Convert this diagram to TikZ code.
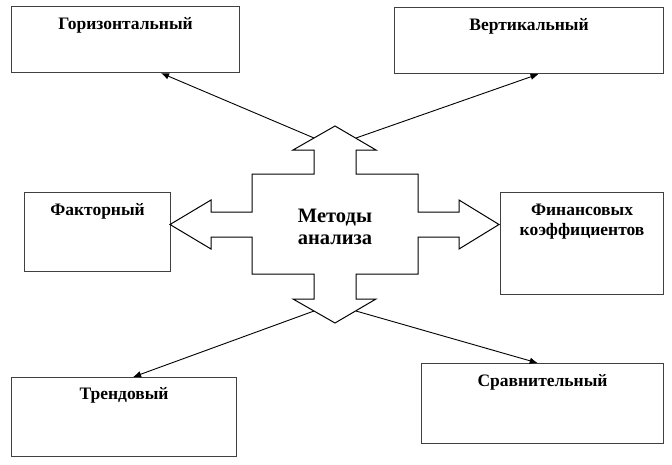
\documentclass[tikz,border=0pt]{standalone}
\usepackage{fontspec}
\setmainfont{Liberation Serif}
\usetikzlibrary{arrows.meta,calc}
\begin{document}
\begin{tikzpicture}[x=1pt,y=-1pt,
  box/.style={draw=black!75,line width=1.1pt,rectangle,inner sep=0pt,anchor=north west},
  lbl/.style={anchor=base,inner sep=0pt,align=center,font=\bfseries\fontsize{17.5}{20}\selectfont},
  conn/.style={draw=black,line width=0.9pt,-{Latex[length=8pt,width=6.5pt]}},
  crossline/.style={draw=black,line width=1pt,line join=miter}]
\useasboundingbox[fill=white] (0,0) rectangle (672,464);

% boxes
\node[box,minimum width=228pt,minimum height=66pt] (hor) at (11,6) {};
\node[box,minimum width=269pt,minimum height=66pt] (ver) at (394,7) {};
\node[box,minimum width=146pt,minimum height=79pt] (fak) at (24,192) {};
\node[box,minimum width=163pt,minimum height=102pt] (fin) at (500,192) {};
\node[box,minimum width=225pt,minimum height=79pt] (tre) at (11,377) {};
\node[box,minimum width=242pt,minimum height=80pt] (srv) at (421,363) {};

% labels (base anchor = baseline of the last line)
\node[lbl] (horL) at ($(hor.north)+(0,23)$) {Горизонтальный};
\node[lbl] (verL) at ($(ver.north)+(0,23)$) {Вертикальный};
\node[lbl] (fakL) at ($(fak.north)+(0,23)$) {Факторный};
\node[lbl] (finL) at ($(fin.north)+(0,43)$) {Финансовых\\коэффициентов};
\node[lbl] (treL) at ($(tre.north)+(0,22)$) {Трендовый};
\node[lbl] (srvL) at ($(srv.north)+(0,23)$) {Сравнительный};

% central cross arrow
\draw[crossline]
  (335,126) -- (376,150) -- (356,150) -- (356,174) -- (418,174) -- (418,212)
  -- (459,212) -- (459,200) -- (499,224.5) -- (459,249) -- (459,237) -- (418,237)
  -- (418,274) -- (356,274) -- (356,299) -- (376,299) -- (335,323) -- (293,299)
  -- (314,299) -- (314,274) -- (252,274) -- (252,237) -- (211,237) -- (211,249)
  -- (170,224.5) -- (211,200) -- (211,212) -- (252,212) -- (252,174) -- (314,174)
  -- (314,150) -- (293,150) -- cycle;
\node[anchor=base,inner sep=0pt,align=center,font=\bfseries\fontsize{20.5}{22.5}\selectfont] (mid) at (335,244.5) {Методы\\анализа};

% connector start points on the arrow heads
\coordinate (tl) at (314,138);
\coordinate (tr) at (356,138);
\coordinate (bl) at (314,311);
\coordinate (br) at (356,311);

\draw[conn] (tl) -- ($(hor.south west)!0.655!(hor.south east)$);
\draw[conn] (tr) -- ($(ver.south west)!0.535!(ver.south east)$);
\draw[conn] (bl) -- ($(tre.north west)!0.54!(tre.north east)$);
\draw[conn] (br) -- ($(srv.north west)!0.48!(srv.north east)$);
\end{tikzpicture}
\end{document}
